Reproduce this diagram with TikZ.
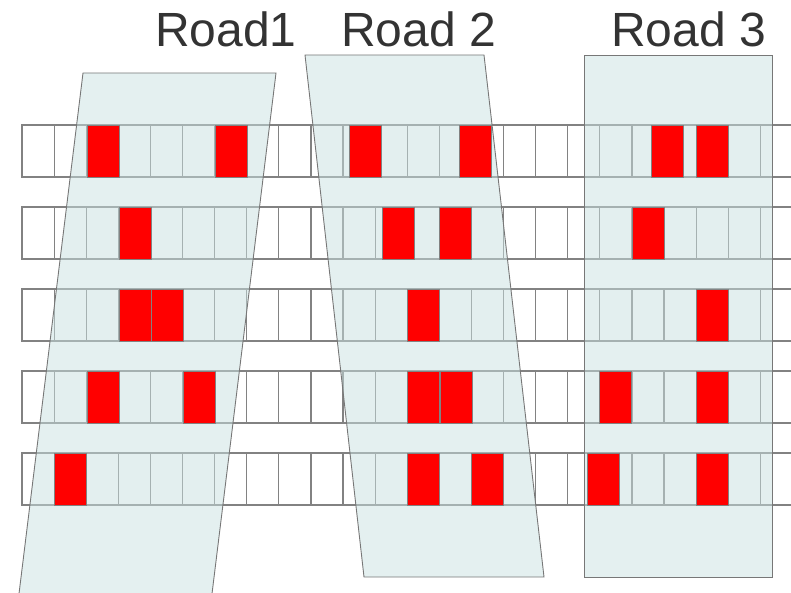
\documentclass[tikz,border=0pt]{standalone}
\usepackage{fontspec}
\setmainfont{Liberation Sans}
\definecolor{cGrid}{HTML}{828282}
\definecolor{cRoad}{HTML}{C9E1E1}
\definecolor{cEdge}{HTML}{777777}
\definecolor{cCar}{HTML}{FF0000}
\definecolor{cLabel}{HTML}{333333}
\tikzset{
  cell/.style  ={draw=cGrid, fill=white, line width=1.2pt},
  road/.style  ={draw=cEdge, fill=cRoad, fill opacity=0.5, line width=0.9pt},
  car/.style   ={draw=cGrid, fill=cCar, line width=0.9pt},
  title/.style ={font=\fontsize{48}{48}\selectfont, text=cLabel, inner sep=0pt, anchor=base west},
}

\begin{document}
\begin{tikzpicture}[x=1pt, y=-1pt]
\useasboundingbox (0,0) rectangle (791,593);
\clip (0,0) rectangle (791,593);

% parking rows
\foreach \r in {0,...,4}
  \foreach \c in {0,...,23}
    \draw[cell] ({22+32.1*\c},{125+82*\r}) rectangle ++(32.1,52);

% roads
\draw[road] (83,73) -- (276,73) -- (210,610) -- (17,610) -- cycle;
\draw[road] (305,55) -- (484,55) -- (544,577) -- (364,577) -- cycle;
\draw[road] (584,55) rectangle (772,577);

% cars (left edge / row)
\foreach \x/\r in {87/0, 215/0, 349.5/0, 459/0, 651/0, 696/0,
                   119/1, 382/1, 439.5/1, 632/1,
                   119/2, 151/2, 407.5/2, 696/2,
                   87/3, 183/3, 407.5/3, 440/3, 599.5/3, 696/3,
                   54.5/4, 407.5/4, 471.5/4, 587/4, 696/4}
  \draw[car] (\x,{125+82*\r}) rectangle ++(32.3,52);

\node[title] (road1) at (155,47) {Road1};
\node[title] (road2) at (341,47) {Road 2};
\node[title] (road3) at (611,47) {Road 3};
\end{tikzpicture}
\end{document}
